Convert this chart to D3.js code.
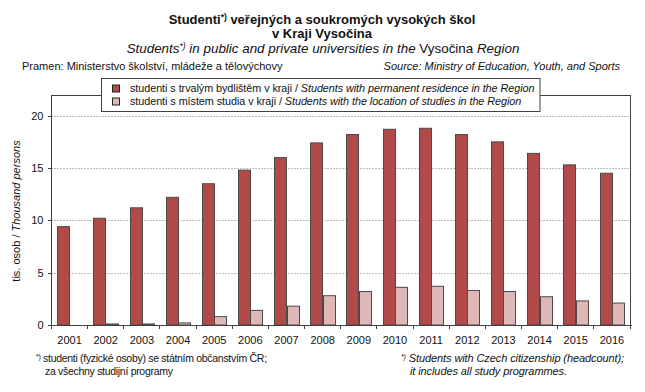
<!DOCTYPE html>
<html><head><meta charset="utf-8">
<script src="https://cdn.jsdelivr.net/npm/d3@7"></script>
<style>
body{margin:0;background:#fff;}
svg{display:block;font-family:"Liberation Sans",Arial,sans-serif;}
</style></head>
<body><svg id="c" width="645" height="392"></svg>
<script>
const years = ["2001","2002","2003","2004","2005","2006","2007","2008","2009","2010","2011","2012","2013","2014","2015","2016"];
const residence = [9.4,10.2,11.2,12.2,13.5,14.8,16.0,17.4,18.2,18.7,18.8,18.2,17.5,16.4,15.3,14.5];
const studyLocation = [0.0,0.1,0.1,0.2,0.8,1.4,1.8,2.8,3.2,3.6,3.7,3.3,3.2,2.7,2.3,2.1];
const yTicks = [0,5,10,15,20];
const seriesNames = ["residence","location"];

const svg = d3.select("#c");
const colors = {residence:"#b34a4a", location:"#dfb7b7"};
const L = 51.5, R = 630, B = 325, T = 95.5;
const x0 = d3.scaleBand().domain(years).range([L,R]).padding(0);
const x1 = d3.scaleBand().domain(seriesNames).range([0,x0.bandwidth()]).paddingInner(0).paddingOuter(0.46);
const y = d3.scaleLinear().domain([0,20]).range([B,115.7]);

// gridlines
svg.append("g").selectAll("line").data(yTicks.filter(d=>d>0)).join("line")
  .attr("x1",L).attr("x2",R).attr("y1",d=>Math.round(y(d))+0.5).attr("y2",d=>Math.round(y(d))+0.5)
  .attr("stroke","#7a7a7a").attr("stroke-width",1).attr("stroke-dasharray","1,2");

// bars
const data = years.map((yr,i)=>({year:yr, residence:residence[i], location:studyLocation[i]}));
const g = svg.append("g");
data.forEach(d=>{
  seriesNames.forEach(s=>{
    const v = d[s];
    const x = x0(d.year)+x1(s);
    g.append("rect")
      .attr("x",Math.round(x)+0.5).attr("y",y(v))
      .attr("width",Math.round(x1.bandwidth()))
      .attr("height",Math.max(0,y(0)-y(v)))
      .attr("fill",colors[s]).attr("stroke","#4a4a4a").attr("stroke-width",1);
  });
});

// frame (left, top, right)
svg.append("path").attr("d",`M${L},${B}V${T}H${R}V${B}`).attr("fill","none").attr("stroke","#404040").attr("stroke-width",1).attr("shape-rendering","crispEdges");

// y axis
const yAxis = d3.axisLeft(y).tickValues(yTicks).tickSize(4).tickPadding(4);
const ya = svg.append("g").attr("transform",`translate(${L},0)`).call(yAxis);
ya.select(".domain").remove();
ya.selectAll("line").attr("stroke","#404040").attr("shape-rendering","crispEdges");
ya.selectAll("text").attr("font-size",11).attr("fill","#111").attr("font-family","Liberation Sans, Arial, sans-serif");

// x axis
const xa = svg.append("g").attr("transform",`translate(0,${B})`);
xa.append("line").attr("x1",L).attr("x2",R+2).attr("y1",0).attr("y2",0).attr("stroke","#404040").attr("shape-rendering","crispEdges");
xa.selectAll("line.t").data(years.concat(["end"])).join("line").attr("class","t")
  .attr("x1",(d,i)=>i<years.length?x0(d):R).attr("x2",(d,i)=>i<years.length?x0(d):R)
  .attr("y1",0).attr("y2",4).attr("stroke","#404040").attr("shape-rendering","crispEdges");
xa.selectAll("text").data(years).join("text")
  .attr("x",d=>x0(d)+x0.bandwidth()/2).attr("y",19)
  .attr("text-anchor","middle").attr("font-size",11).attr("fill","#111").text(d=>d);

// y axis title
const yt = svg.append("text").attr("transform","translate(20,211) rotate(-90)").attr("text-anchor","middle").attr("font-size",11).attr("fill","#111");
yt.append("tspan").text("tis. osob / ");
yt.append("tspan").attr("font-style","italic").text("Thousand persons");

// titles
const t1 = svg.append("text").attr("x",322).attr("y",24).attr("text-anchor","middle").attr("font-size",13).attr("font-weight","bold").attr("fill","#111");
t1.append("tspan").text("Studenti");
t1.append("tspan").attr("font-size",8.5).attr("dy",-4).text("*)");
t1.append("tspan").attr("dy",4).text(" veřejných  a  soukromých  vysokých  škol");
svg.append("text").attr("x",322).attr("y",37.5).attr("text-anchor","middle").attr("font-size",13).attr("font-weight","bold").attr("fill","#111").text("v Kraji Vysočina");
const t3 = svg.append("text").attr("x",323).attr("y",52.5).attr("text-anchor","middle").attr("font-size",13.4).attr("fill","#111");
t3.append("tspan").attr("font-style","italic").text("Students");
t3.append("tspan").attr("font-style","italic").attr("font-size",8.5).attr("dy",-4).text("*)");
t3.append("tspan").attr("font-style","italic").attr("dy",4).text(" in public and private universities in the ");
t3.append("tspan").text("Vysočina ");
t3.append("tspan").attr("font-style","italic").text("Region");

svg.append("text").attr("x",22).attr("y",70).attr("font-size",11).attr("fill","#111").text("Pramen: Ministerstvo školství, mládeže a tělovýchovy");
svg.append("text").attr("x",620).attr("y",70).attr("text-anchor","end").attr("font-size",11).attr("font-style","italic").attr("fill","#111").text("Source: Ministry of Education, Youth, and Sports");

// legend
const lg = svg.append("g");
lg.append("rect").attr("x",101.5).attr("y",78.5).attr("width",438.5).attr("height",33).attr("fill","#fff").attr("stroke","#404040");
const legendItems = [
  {key:"residence", cz:"studenti s trvalým bydlištěm v kraji / ", en:"Students with permanent residence in the Region"},
  {key:"location", cz:"studenti s místem studia v kraji / ", en:"Students with the location of studies in the Region"}
];
legendItems.forEach((it,i)=>{
  const cy = 88.5 + i*13;
  lg.append("rect").attr("x",112.5).attr("y",cy-3.5).attr("width",7).attr("height",7).attr("fill",colors[it.key]).attr("stroke","#222");
  const tx = lg.append("text").attr("x",130).attr("y",cy+3.8).attr("font-size",10.8).attr("fill","#111").attr("letter-spacing",-0.05);
  tx.append("tspan").text(it.cz);
  tx.append("tspan").attr("font-style","italic").text(it.en);
});

// footnotes
const f1 = svg.append("text").attr("x",36).attr("y",362).attr("font-size",10.5).attr("fill","#111").attr("letter-spacing",-0.3);
f1.append("tspan").attr("font-size",7).attr("dy",-3).text("*)");
f1.append("tspan").attr("dy",3).text(" studenti (fyzické osoby) se státním občanstvím ČR;");
svg.append("text").attr("x",45).attr("y",375).attr("font-size",10.5).attr("fill","#111").attr("letter-spacing",-0.3).text("za všechny studijní programy");
const f2 = svg.append("text").attr("x",401).attr("y",362).attr("font-size",11).attr("font-style","italic").attr("fill","#111").attr("letter-spacing",-0.1);
f2.append("tspan").attr("font-size",7).attr("dy",-3).text("*)");
f2.append("tspan").attr("dy",3).text(" Students with Czech citizenship (headcount);");
svg.append("text").attr("x",410).attr("y",375).attr("font-size",11).attr("font-style","italic").attr("fill","#111").attr("letter-spacing",-0.1).text("it includes all study programmes.");
</script></body></html>
